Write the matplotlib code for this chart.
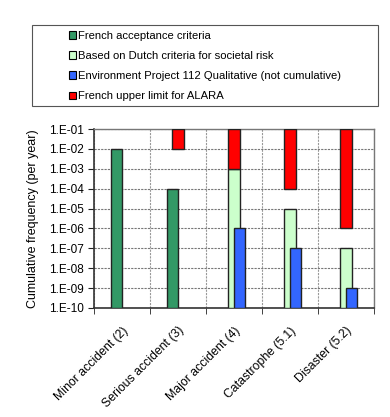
import numpy as np
import matplotlib
matplotlib.use("Agg")
import matplotlib.pyplot as plt
from matplotlib.patches import Patch, Rectangle

plt.rcParams['font.family'] = ['Liberation Sans', 'DejaVu Sans']

categories = ['Minor accident (2)', 'Serious accident (3)', 'Major accident (4)',
              'Catastrophe (5.1)', 'Disaster (5.2)']
french_accept = [1e-2, 1e-4, np.nan, np.nan, np.nan]
dutch_societal = [np.nan, np.nan, 1e-3, 1e-5, 1e-7]
env_project_112 = [np.nan, np.nan, 1e-6, 1e-7, 1e-9]
alara_lower = [np.nan, 1e-2, 1e-3, 1e-4, 1e-6]
alara_top = 1e-1
y_floor = 1e-10

series_labels = ['French acceptance criteria',
                 'Based on Dutch criteria for societal risk',
                 'Environment Project 112 Qualitative (not cumulative)',
                 'French upper limit for ALARA']
colors = ['#339966', '#CCFFCC', '#3366FF', '#FF0000']

fig = plt.figure(figsize=(3.9, 4.17), dpi=100)
ax = fig.add_axes([94 / 390, 1 - 308 / 417, 280 / 390, 179 / 417])

x = np.arange(len(categories))
w = 0.2
edge = dict(edgecolor='#222222', linewidth=1.0, zorder=3)

ax.bar(x - w / 2, np.array(french_accept) - y_floor, w, bottom=y_floor, color=colors[0], **edge)
ax.bar(x, np.array(dutch_societal) - y_floor, w, bottom=y_floor, color=colors[1], **edge)
ax.bar(x + w / 2, np.array(env_project_112) - y_floor, w, bottom=y_floor, color=colors[2], **edge)
ax.bar(x, alara_top - np.array(alara_lower), w, bottom=alara_lower, color=colors[3], **edge)

ax.set_yscale('log')
ax.set_ylim(y_floor, alara_top)
ax.set_xlim(-0.5, len(categories) - 0.5)
yt = [10.0 ** k for k in range(-10, 0)]
ax.set_yticks(yt)
ax.set_yticklabels([f'1.E-{-k:02d}' for k in range(-10, 0)], fontsize=8.5)
ax.yaxis.set_minor_locator(matplotlib.ticker.NullLocator())

ax.set_xticks(x)
ax.set_xticklabels(categories, rotation=45, ha='right', rotation_mode='anchor', fontsize=8.8)
ax.tick_params(axis='x', length=0, pad=12)
ax.set_xticks(np.arange(len(categories) + 1) - 0.5, minor=True)
ax.tick_params(axis='x', which='minor', length=4, color='#222222')
ax.tick_params(axis='y', length=4.5, color='#222222', pad=3)

ax.grid(True, axis='y', which='major', linestyle=(0, (2, 1)), color='#777777', lw=0.8, zorder=0)
ax.grid(True, axis='x', which='minor', linestyle=(0, (2, 1)), color='#999999', lw=0.8, zorder=0)
ax.set_axisbelow(True)

for s in ['left', 'bottom']:
    ax.spines[s].set_color('#333333')
    ax.spines[s].set_linewidth(1.2)
for s in ['top', 'right']:
    ax.spines[s].set_color('#777777')
    ax.spines[s].set_linewidth(1.0)

ax.set_ylabel('Cumulative frequency (per year)', fontsize=9, labelpad=7)

# legend box drawn separately so it can be wider than its entries
fig.patches.append(Rectangle((32 / 390, 1 - 106 / 417), 346 / 390, 81 / 417,
                             transform=fig.transFigure, fill=False,
                             edgecolor='#555555', lw=0.8))
handles = [Patch(facecolor=c, edgecolor='black', lw=0.8) for c in colors]
fig.legend(handles, series_labels, loc='upper left',
           bbox_to_anchor=(61 / 390, 1 - 23 / 417), frameon=False,
           fontsize=8.1, handlelength=0.65, handleheight=0.65,
           handletextpad=0.15, labelspacing=0.9, borderaxespad=0.3)

fig.savefig('out.png', dpi=100)
